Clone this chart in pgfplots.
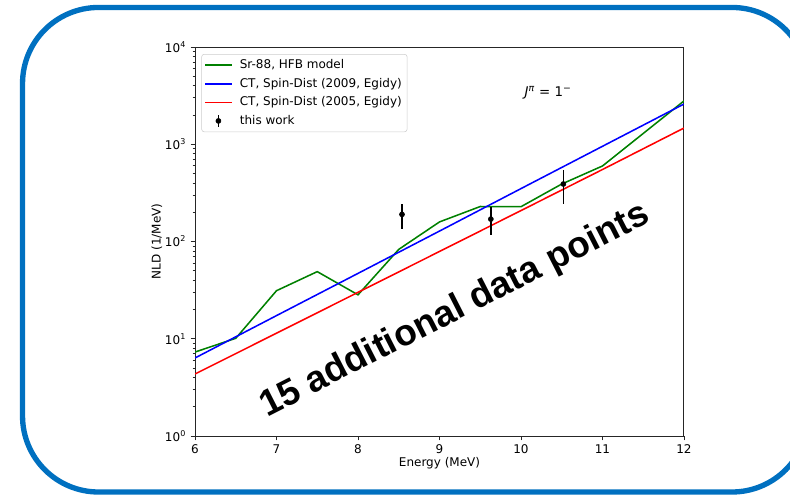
\documentclass[border=0pt]{standalone}
\usepackage{pgfplots}
\pgfplotsset{compat=1.18}
\usepackage{fontspec}
\setmainfont{DejaVu Sans}
\newfontfamily\bigfont{Liberation Sans}
\definecolor{frameblue}{RGB}{0,112,192}
\definecolor{mplgreen}{RGB}{0,128,0}
\definecolor{mplblue}{RGB}{0,0,255}
\definecolor{mplred}{RGB}{255,0,0}
\definecolor{legframe}{RGB}{204,204,204}
\definecolor{axgray}{RGB}{38,38,38}
\begin{document}
\begin{tikzpicture}
\useasboundingbox (0,0) rectangle (592.5pt,370.5pt);
\draw[frameblue, line width=4pt, rounded corners=57pt] (16.9pt,1.5pt) rectangle (606pt,364.9pt);
\begin{axis}[
  at={(146.25pt,43.5pt)}, anchor=south west,
  scale only axis, width=366.75pt, height=291.75pt,
  xmin=6, xmax=12, ymode=log, ymin=1, ymax=10000,
  xtick={6,7,8,9,10,11,12},
  ytick={1,10,100,1000,10000},
  yticklabels={10\textsuperscript{0},10\textsuperscript{1},10\textsuperscript{2},10\textsuperscript{3},10\textsuperscript{4}},
  /pgf/number format/assume math mode=true,
  tick label style={font=\fontsize{9}{11}\selectfont, text=black},
  label style={font=\fontsize{9}{11}\selectfont},
  xtick pos=bottom, ytick pos=left,
  tick align=outside,
  major tick length=3.2pt, minor tick length=1.8pt,
  every tick/.style={axgray, line width=0.6pt},
  axis line style={axgray, line width=0.75pt},
  xlabel={Energy (MeV)}, ylabel={NLD (1/MeV)},
  xlabel style={at={(axis description cs:0.5,-0.069)}, anchor=center},
  ylabel style={at={(axis description cs:-0.078,0.5)}, anchor=center},
  legend style={at={(0.013,0.982)}, anchor=north west, draw=legframe, rounded corners=2pt,
    font=\fontsize{9}{11}\selectfont, row sep=1.6pt, inner xsep=2pt, inner ysep=2pt,
    cells={anchor=west}},
  clip=true,
]
\addplot[mplgreen, line width=1.15pt,
  legend image code/.code={\draw[mplgreen,line width=1.2pt] (0pt,0pt) -- (20pt,0pt); \path (23.5pt,0pt);}] coordinates {
  (6,7.3) (6.5,10.1) (7,31.2) (7.5,49) (8,28.3) (8.5,83) (9,159) (9.5,229) (10,228) (10.5,390) (11,598) (12,2790)};
\addlegendentry{Sr-88, HFB model}
\addplot[mplblue, line width=1.15pt,
  legend image code/.code={\draw[mplblue,line width=1.2pt] (0pt,0pt) -- (20pt,0pt); \path (23.5pt,0pt);}] coordinates {
  (6,6.34) (7,17.3) (8,47) (9,128) (10,350) (11,953) (12,2594)};
\addlegendentry{CT, Spin-Dist (2009, Egidy)}
\addplot[mplred, line width=1.15pt,
  legend image code/.code={\draw[mplred,line width=1.2pt] (0pt,0pt) -- (20pt,0pt); \path (23.5pt,0pt);}] coordinates {
  (6,4.34) (7,11.4) (8,30) (9,79) (10,208) (11,550) (12,1469)};
\addlegendentry{CT, Spin-Dist (2005, Egidy)}
\addplot[black, only marks, mark=*, mark size=1.9pt,
  legend image code/.code={\draw[black,line width=1.1pt] (10pt,-4.5pt) -- (10pt,4.5pt); \fill[black] (10pt,0pt) circle (1.9pt); \path (0pt,0pt) (23.5pt,0pt);},
  error bars/.cd, y dir=both, y explicit, error mark=none,
  error bar style={black, line width=1.1pt},
  ] coordinates {
  (8.54,190) += (0,53) -= (0,57)
  (9.63,170) += (0,58) -= (0,53)
  (10.52,390) += (0,153) -= (0,147)
};
\addlegendentry{this work}
\node[anchor=center, font=\fontsize{10}{12}\selectfont] at (axis description cs:0.722,0.882)
  {\textit{J}\textsuperscript{\textit{π}} = 1\textsuperscript{−}};
\end{axis}
\node[rotate=27, anchor=center, font=\bigfont\bfseries\fontsize{27.6}{32}\selectfont] at (341.25pt,137.25pt) {15 additional data points};
\end{tikzpicture}
\end{document}
